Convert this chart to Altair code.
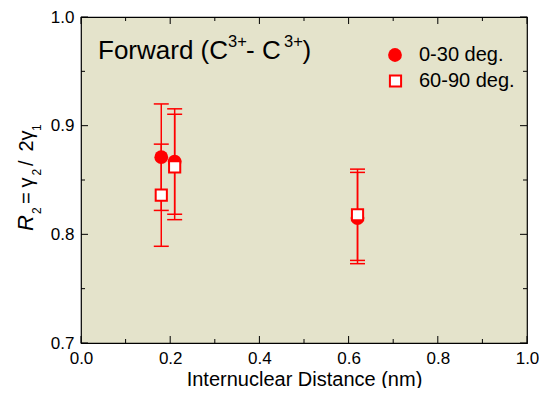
import altair as alt
import pandas as pd

# ---- data ----
x_nm = [0.18, 0.21, 0.62]
r2_0_30 = [0.871, 0.867, 0.815]
err_0_30 = [0.049, 0.0485, 0.042]
r2_60_90 = [0.836, 0.862, 0.818]
err_60_90 = [0.047, 0.0485, 0.042]

x_major = [0.0, 0.2, 0.4, 0.6, 0.8, 1.0]
x_minor = [0.1, 0.3, 0.5, 0.7, 0.9]
y_major = [0.7, 0.8, 0.9, 1.0]
y_minor = [0.75, 0.85, 0.95]

legend_labels = ["0-30 deg.", "60-90 deg."]
x_title = "Internuclear Distance (nm)"

W, H = 446, 326
FONT = "Liberation Sans"
RED = "#FF0000"

df_a = pd.DataFrame({"x": x_nm, "r": r2_0_30,
                     "lo": [v - e for v, e in zip(r2_0_30, err_0_30)],
                     "hi": [v + e for v, e in zip(r2_0_30, err_0_30)]})
df_b = pd.DataFrame({"x": x_nm, "r": r2_60_90,
                     "lo": [v - e for v, e in zip(r2_60_90, err_60_90)],
                     "hi": [v + e for v, e in zip(r2_60_90, err_60_90)]})

xscale = alt.Scale(domain=[0, 1], nice=False, zero=False)
yscale = alt.Scale(domain=[0.7, 1.0], nice=False, zero=False)
xaxis = alt.Axis(values=x_major, format=".1f", tickSize=0, domain=False, grid=False,
                 labelFont=FONT, labelFontSize=17, labelColor="black", labelPadding=7,
                 labelFlush=False, titleFont=FONT, titleFontSize=20, titleFontWeight="normal",
                 titleColor="black", titleY=42, titleBaseline="alphabetic")
yaxis = alt.Axis(values=y_major, format=".1f", tickSize=0, domain=False, grid=False,
                 labelFont=FONT, labelFontSize=17, labelColor="black", labelPadding=7,
                 labelFlush=False, title=None)


def xenc(f):
    return alt.X(f, type="quantitative", scale=xscale, axis=xaxis, title=x_title)


def yenc(f):
    return alt.Y(f, type="quantitative", scale=yscale, axis=yaxis)


layers = []

# inward ticks on all four sides
for vals, ln in ((x_major, 7), (x_minor, 4)):
    d = pd.DataFrame({"t": vals})
    layers.append(alt.Chart(d).mark_rule(color="black", strokeWidth=1).encode(
        x=xenc("t"), y=alt.value(H), y2=alt.value(H - ln)))
    layers.append(alt.Chart(d).mark_rule(color="black", strokeWidth=1).encode(
        x=xenc("t"), y=alt.value(0), y2=alt.value(ln)))
for vals, ln in ((y_major, 7), (y_minor, 4)):
    d = pd.DataFrame({"t": vals})
    layers.append(alt.Chart(d).mark_rule(color="black", strokeWidth=1).encode(
        y=yenc("t"), x=alt.value(0), x2=alt.value(ln)))
    layers.append(alt.Chart(d).mark_rule(color="black", strokeWidth=1).encode(
        y=yenc("t"), x=alt.value(W), x2=alt.value(W - ln)))

# error bars
for d in (df_a, df_b):
    layers.append(alt.Chart(d).mark_rule(color=RED, strokeWidth=1.5).encode(
        x=xenc("x"), y=yenc("lo"), y2="hi"))
    layers.append(alt.Chart(d).mark_tick(orient="horizontal", size=15, thickness=1.5,
                                         color=RED, opacity=1).encode(x=xenc("x"), y=yenc("lo")))
    layers.append(alt.Chart(d).mark_tick(orient="horizontal", size=15, thickness=1.5,
                                         color=RED, opacity=1).encode(x=xenc("x"), y=yenc("hi")))

# markers
layers.append(alt.Chart(df_a).mark_point(shape="circle", filled=True, size=190, color=RED,
                                         opacity=1).encode(x=xenc("x"), y=yenc("r")))
layers.append(alt.Chart(df_b).mark_point(shape="square", size=125, fill="white", stroke=RED,
                                         strokeWidth=2, opacity=1, fillOpacity=1
                                         ).encode(x=xenc("x"), y=yenc("r")))

one = alt.Data(values=[{"k": 1}])


def txt(s, x, y, fs, angle=0, baseline="alphabetic", style="normal"):
    return alt.Chart(one).mark_text(align="left", baseline=baseline, font=FONT, fontSize=fs,
                                    angle=angle, fontStyle=style, color="black").encode(
        x=alt.value(x), y=alt.value(y), text=alt.value(s))


# legend (manual, inside the plot)
layers.append(alt.Chart(one).mark_point(shape="circle", filled=True, size=190, color=RED,
                                        opacity=1).encode(x=alt.value(314), y=alt.value(38)))
layers.append(alt.Chart(one).mark_point(shape="square", size=125, fill="white", stroke=RED,
                                        strokeWidth=2, opacity=1, fillOpacity=1
                                        ).encode(x=alt.value(314.5), y=alt.value(64)))
for lab, yy in zip(legend_labels, (38, 64)):
    layers.append(txt(lab, 338, yy, 20, baseline="middle"))

# in-plot title with superscripts
title_parts = [("Forward (C", 17, 42.3, 26), ("3+", 147, 29.5, 16.5), ("- C", 165, 42.3, 26),
               ("3+", 203, 29.5, 16.5), (")", 221.5, 42.3, 26)]
for s, xx, yy, fs in title_parts:
    layers.append(txt(s, xx, yy, fs))

# rotated y-axis title  R2 = gamma2 / 2 gamma1  (subscripts as smaller, lowered text)
y_title_parts = [("R", -48, 214, 22, "italic"), ("2", -40, 197, 12, "normal"),
                 ("=", -48, 187, 20, "normal"), ("\u03b3", -48, 170.5, 20, "normal"),
                 ("2", -40, 158.5, 12, "normal"), ("/", -48, 149, 20, "normal"),
                 ("2", -48, 134.5, 20, "normal"), ("\u03b3", -48, 123.5, 20, "normal"),
                 ("1", -40, 114, 12, "normal")]
for s, xx, yy, fs, st in y_title_parts:
    layers.append(txt(s, xx, yy, fs, angle=270, style=st))

chart = alt.layer(*layers).properties(
    width=W, height=H,
    autosize=alt.AutoSizeParams(type="none"),
    padding={"left": 73, "top": 9, "right": 12, "bottom": 45},
    background="white",
).configure_view(stroke="black", strokeWidth=1.2, fill="#E4E3CB")

chart.save("out.html", embed_options={"renderer": "svg", "actions": False})
